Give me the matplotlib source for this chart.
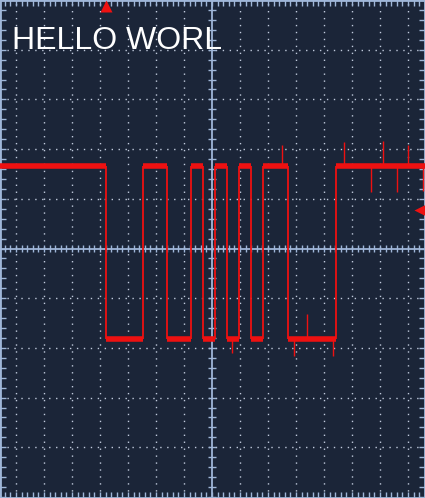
import numpy as np
import matplotlib
matplotlib.use('Agg')
from matplotlib import pyplot as plt

# screen: 1 div horizontally = 28 px, 1 div vertically = 49.8 px
x_lo, x_hi = -212 / 28, 213 / 28
y_lo, y_hi = -250 / 49.8, 248 / 49.8

# uart trace (in divisions)
level_high = 1.67
level_low = -1.83
start_level = 'high'
edge_times = [-3.79, -2.46, -1.61, -0.75, -0.32, 0.11, 0.54, 0.96, 1.39, 1.82, 2.71, 4.43]

# glitches: time, tip of spike (divisions)
spike_high_t = [2.49, 4.73, 6.10, 7.01, 5.68, 6.60, 7.53]
spike_high_tip = [2.09, 2.14, 2.17, 2.09, 1.13, 1.13, 1.15]
spike_low_t = [0.71, 2.93, 4.32, 3.39]
spike_low_tip = [-2.10, -2.16, -2.16, -1.31]

title_text = 'HELLO WORL'

bg = '#1b2538'
grid_c = '#c0cadc'
axis_c = '#9fb6d8'
red = '#ee1111'

fig = plt.figure(figsize=(4.25, 4.98), dpi=100)
fig.patch.set_facecolor(bg)
ax = fig.add_axes([0, 0, 1, 1])
ax.set_facecolor(bg)
ax.set_xlim(x_lo, x_hi)
ax.set_ylim(y_lo, y_hi)

# dotted grid
for k in range(-7, 8):
    if k != 0:
        ax.axvline(k, color=grid_c, lw=1, ls=(0, (1, 4)), zorder=1)
for k in range(-4, 5):
    if k != 0:
        ax.axhline(k, color=grid_c, lw=1, ls=(0, (1, 4)), zorder=1)

# centre axes with small ticks
ax.axvline(0, color=axis_c, lw=1.3, zorder=2)
ax.axhline(0, color=axis_c, lw=1.3, zorder=2)
xt = np.arange(-7.6, 7.7, 0.2)
yt = np.arange(-5.0, 5.01, 0.2)
ax.vlines(xt, -0.07, 0.07, color=axis_c, lw=1, zorder=2)
ax.hlines(yt, -0.13, 0.13, color=axis_c, lw=1, zorder=2)

# border ticks
ax.set_xticks(np.arange(-7.4, 7.7, 0.2))
ax.set_yticks(np.arange(-5.0, 5.01, 0.2))
ax.tick_params(direction='in', length=4, width=1, color=axis_c,
               top=True, right=True, labelbottom=False, labelleft=False)
for s in ax.spines.values():
    s.set_color(axis_c)
    s.set_linewidth(2)

# trace
times = [x_lo] + edge_times + [x_hi]
lev = level_high if start_level == 'high' else level_low
levels = []
for i in range(len(times) - 1):
    levels.append(lev)
    lev = level_low if lev == level_high else level_high
ax.hlines(levels, times[:-1], times[1:], color=red, lw=4, zorder=4)
ax.vlines(edge_times, level_low, level_high, color=red, lw=1.3, zorder=4)
ax.vlines(spike_high_t, level_high, spike_high_tip, color=red, lw=1, zorder=4)
ax.vlines(spike_low_t, level_low, spike_low_tip, color=red, lw=1, zorder=4)

# trigger markers
ax.plot([edge_times[0]], [y_hi - 0.1], marker='^', color=red, ms=9,
        mec='none', zorder=5, clip_on=False)
ax.plot([x_hi - 0.17], [0.77], marker='<', color=red, ms=9,
        mec='none', zorder=5, clip_on=False)

ax.text(12 / 425, 1 - 49 / 498, title_text, transform=ax.transAxes,
        color='white', fontsize=23, family='Liberation Sans',
        ha='left', va='baseline', zorder=6)

fig.savefig('out.png', dpi=100, facecolor=bg)
